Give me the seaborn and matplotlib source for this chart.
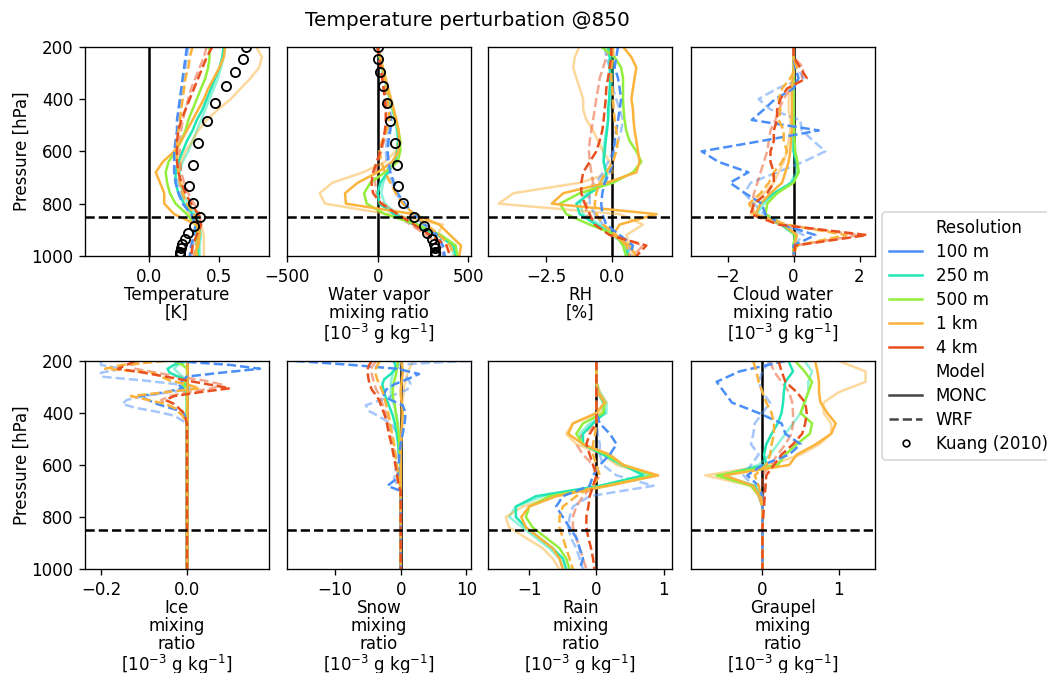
import matplotlib
matplotlib.use("Agg")
import matplotlib.pyplot as plt
import seaborn as sns
from matplotlib.lines import Line2D

# ---------------- data ----------------
P = [200, 240, 280, 320, 360, 400, 440, 480, 520, 560, 600, 640, 680, 720, 760, 800, 840, 880, 920, 960, 1000]
P_ICE = [200, 215, 230, 245, 260, 275, 290, 305, 320, 335, 350, 365, 380, 395, 410, 440, 1000]
P_SNOW = [200, 205, 215, 230, 250, 270, 290, 310, 330, 350, 370, 390, 410, 440, 480, 520, 560, 600, 650, 680, 700, 1000]

RESOLUTIONS = ["100 m", "250 m", "500 m", "1 km", "4 km"]
MODELS = ["MONC", "WRF"]

KUANG_P = [200, 247, 296, 350, 414, 485, 567, 651, 731, 799, 850, 885, 911, 934, 954, 971, 984, 993, 998]
KUANG_T = [0.685, 0.664, 0.613, 0.547, 0.467, 0.415, 0.347, 0.312, 0.282, 0.315, 0.364, 0.317, 0.277, 0.254, 0.235, 0.228, 0.223, 0.223, 0.223]
KUANG_QV = [0, 4, 11, 27, 49, 68, 97, 106, 115, 142, 200, 254, 272, 299, 313, 317, 317, 317, 317]

TEMP = {
    "M250f": [0.54, 0.53, 0.51, 0.49, 0.46, 0.43, 0.40, 0.37, 0.34, 0.31, 0.28, 0.24, 0.22, 0.22, 0.24, 0.28, 0.33, 0.36, 0.37, 0.36, 0.36],
    "M1kf": [0.76, 0.80, 0.78, 0.72, 0.65, 0.58, 0.49, 0.41, 0.35, 0.31, 0.26, 0.23, 0.21, 0.23, 0.24, 0.25, 0.29, 0.37, 0.39, 0.39, 0.39],
    "W100f": [0.28, 0.27, 0.26, 0.25, 0.24, 0.23, 0.22, 0.21, 0.21, 0.20, 0.19, 0.19, 0.19, 0.21, 0.23, 0.27, 0.32, 0.34, 0.33, 0.31, 0.30],
    "W4kf": [0.41, 0.39, 0.36, 0.33, 0.30, 0.28, 0.26, 0.24, 0.23, 0.22, 0.22, 0.22, 0.23, 0.25, 0.28, 0.32, 0.36, 0.37, 0.35, 0.33, 0.32],
    "M250": [0.53, 0.52, 0.50, 0.47, 0.44, 0.41, 0.38, 0.34, 0.31, 0.27, 0.24, 0.21, 0.19, 0.19, 0.21, 0.25, 0.31, 0.35, 0.36, 0.35, 0.35],
    "M500": [0.43, 0.43, 0.42, 0.40, 0.37, 0.34, 0.31, 0.28, 0.26, 0.23, 0.19, 0.14, 0.12, 0.13, 0.15, 0.19, 0.27, 0.33, 0.34, 0.34, 0.34],
    "M1k": [0.54, 0.53, 0.50, 0.46, 0.42, 0.39, 0.35, 0.31, 0.27, 0.23, 0.18, 0.10, 0.05, 0.08, 0.11, 0.11, 0.18, 0.34, 0.36, 0.34, 0.33],
    "W100": [0.27, 0.26, 0.25, 0.24, 0.23, 0.22, 0.21, 0.20, 0.20, 0.19, 0.18, 0.18, 0.18, 0.19, 0.21, 0.24, 0.30, 0.33, 0.32, 0.30, 0.29],
    "W1k": [0.31, 0.29, 0.28, 0.26, 0.25, 0.24, 0.23, 0.22, 0.21, 0.20, 0.20, 0.20, 0.21, 0.22, 0.24, 0.27, 0.32, 0.35, 0.36, 0.35, 0.34],
    "W4k": [0.45, 0.41, 0.38, 0.35, 0.32, 0.29, 0.26, 0.23, 0.21, 0.20, 0.20, 0.20, 0.21, 0.23, 0.26, 0.30, 0.35, 0.37, 0.34, 0.31, 0.30],
}

VAPOR = {
    "M250f": [0, 10, 22, 36, 50, 65, 80, 95, 105, 110, 105, 90, 60, 30, 20, 40, 110, 220, 340, 410, 420],
    "M1kf": [0, 15, 30, 45, 60, 75, 90, 105, 115, 115, 100, 40, -80, -250, -320, -290, 60, 360, 330, 420, 430],
    "W100f": [0, 8, 18, 28, 40, 50, 60, 65, 60, 50, 45, 50, 60, 80, 100, 140, 190, 250, 310, 350, 360],
    "W4kf": [0, 8, 16, 25, 33, 40, 45, 48, 45, 35, 20, 0, -10, -15, -5, 30, 100, 180, 270, 340, 370],
    "M250": [0, 12, 25, 40, 55, 70, 85, 100, 110, 115, 110, 95, 55, 15, 0, 10, 90, 200, 330, 420, 430],
    "M500": [0, 12, 25, 40, 55, 70, 85, 100, 115, 125, 125, 110, 40, -40, -75, -60, 40, 220, 350, 430, 440],
    "M1k": [0, 15, 28, 42, 57, 72, 88, 103, 115, 120, 115, 80, 0, -110, -180, -175, 200, 340, 400, 460, 450],
    "W100": [0, 8, 18, 30, 42, 55, 65, 75, 70, 60, 55, 60, 70, 90, 110, 150, 200, 260, 330, 360, 370],
    "W1k": [0, 10, 20, 32, 45, 55, 62, 65, 50, 25, 10, 20, 40, 70, 100, 140, 200, 270, 340, 400, 420],
    "W4k": [0, 8, 16, 25, 33, 40, 45, 45, 40, 30, 15, -5, -25, -34, -25, 20, 110, 200, 290, 380, 400],
}

RH = {
    "M250f": [-0.03, 0.01, 0.04, 0.01, -0.03, -0.06, -0.11, -0.15, -0.22, -0.28, -0.34, -0.32, -0.24, -0.34, -0.98, -1.23, -1.10, -0.47, 0.16, 0.42, 0.54],
    "M1kf": [-1.25, -1.42, -1.48, -1.36, -1.23, -1.10, -1.10, -0.98, -0.72, -0.53, -0.34, -0.09, 0.04, -1.23, -3.76, -4.33, 0.30, 1.18, 0.55, 0.67, 0.80],
    "W100f": [-0.28, -0.22, -0.09, -0.03, 0.04, 0.16, 0.29, 0.42, 0.35, 0.23, 0.04, -0.15, -0.34, -0.60, -0.85, -0.85, -0.66, -0.34, 0.29, 0.67, 0.61],
    "W4kf": [-0.09, -0.22, -0.34, -0.47, -0.53, -0.60, -0.66, -0.72, -0.79, -0.85, -0.88, -0.85, -0.79, -0.72, -0.85, -0.98, -0.98, -0.72, 0.04, 1.18, 0.80],
    "M250": [-0.15, -0.09, -0.09, -0.06, -0.09, -0.11, -0.15, -0.15, -0.19, -0.24, -0.28, -0.32, -0.22, -0.22, -0.85, -1.36, -1.23, -0.60, 0.04, 0.54, 0.61],
    "M500": [-0.41, 0.10, 0.35, 0.42, 0.42, 0.42, 0.44, 0.48, 0.54, 0.67, 0.93, 1.12, 0.80, 0.04, -1.23, -1.99, -1.74, -0.85, 0.16, 0.42, 0.54],
    "M1k": [0.42, 0.74, 0.93, 0.86, 0.80, 0.74, 0.80, 0.82, 0.86, 0.93, 0.99, 1.05, 0.93, -0.20, -1.86, -2.30, 1.70, 0.29, 0.04, 0.67, 0.93],
    "W100": [0.23, 0.16, 0.10, 0.23, 0.29, 0.35, 0.29, 0.23, 0.16, 0.10, 0.06, 0.04, -0.09, -0.28, -0.37, -0.41, -0.37, -0.22, 0.29, 0.80, 0.67],
    "W1k": [0.04, 0.04, -0.03, -0.03, 0.01, 0.04, 0.06, 0.10, 0.16, 0.23, 0.16, 0.04, -0.22, -0.47, -0.60, -0.66, -0.60, -0.34, 0.16, 0.54, 0.67],
    "W4k": [-0.03, -0.03, -0.09, -0.15, -0.22, -0.24, -0.28, -0.32, -0.37, -0.47, -0.60, -0.85, -1.10, -1.17, -1.17, -1.04, -0.85, -0.66, -0.09, 1.31, 0.93],
}

CLOUD = {
    "M250f": [0, 0, 0, 0, 0, 0, 0, 0, 0, 0, 0, 0.05, 0.08, -0.1, -0.5, -0.9, -1.1, -0.4, 0.05, 0, 0],
    "M1kf": [0, 0, 0, -0.05, -0.1, -0.15, -0.15, -0.1, -0.1, -0.15, -0.2, -0.3, -0.45, -0.6, -0.9, -1.2, -1.3, -0.4, 0.1, 0.02, 0],
    "W100f": [0, 0, 0.1, 0.3, -0.5, -1.06, -0.7, 0.2, 0.25, 0.6, 0.96, 0.3, -0.5, -1.3, -1.5, -1.2, -0.9, -0.3, 0.3, 0, 0],
    "W4kf": [0, 0, 0.3, 0.25, -0.1, -0.3, -0.45, -0.55, -0.7, -0.75, -0.8, -0.9, -1.0, -1.1, -1.2, -1.25, -1.2, -0.3, 2.0, 0.05, 0],
    "M250": [0, 0, 0, 0, 0, 0, 0, 0, 0, 0, 0.0, 0.1, 0.15, -0.05, -0.6, -1.0, -1.15, -0.35, 0.05, 0, 0],
    "M500": [0, 0, 0, 0, 0, 0, 0, 0, 0.02, 0.03, 0.05, 0.12, 0.15, 0.0, -0.5, -0.8, -0.85, -0.3, 0.05, 0, 0],
    "M1k": [0, 0, 0, -0.02, -0.05, -0.05, -0.05, -0.05, -0.05, -0.08, -0.1, -0.15, -0.25, -0.35, -0.7, -1.0, -1.15, -0.3, 0.1, 0.02, 0],
    "W100": [0, 0, 0.05, 0.15, 0.0, -0.56, -0.9, -1.27, 0.76, -0.96, -2.79, -2.28, -1.37, -1.93, -1.47, -0.96, -0.86, -0.35, 0.66, 0.0, 0.0],
    "W1k": [0, 0, 0.1, -0.1, -0.35, -0.45, -0.4, -0.45, -0.3, -0.3, -0.2, -0.35, -0.6, -0.75, -1.0, -1.35, -1.2, -0.2, 1.6, 0.1, 0],
    "W4k": [0, 0, 0.2, 0.4, -0.2, -0.4, -0.5, -0.5, -0.6, -0.6, -0.7, -0.7, -0.6, -0.6, -0.8, -1.2, -1.3, -0.46, 2.23, 0.05, 0],
}

ICE = {
    "M250f": [0, -0.02, -0.03, -0.02, -0.01, 0, -0.01, -0.015, 0, 0, 0, 0, 0, 0, 0, 0, 0],
    "M1kf": [0, 0, 0, 0, 0, 0, 0, 0, 0, 0, 0, 0, 0, 0, 0, 0, 0],
    "W100f": [-0.20, -0.20, -0.15, -0.20, -0.20, -0.10, -0.02, 0.02, -0.04, -0.10, -0.14, -0.15, -0.12, -0.07, -0.03, 0, 0],
    "W4kf": [-0.08, -0.13, -0.12, -0.07, -0.02, 0.04, 0.08, 0.06, 0.0, -0.04, -0.06, -0.05, -0.03, -0.02, -0.01, 0, 0],
    "M250": [0, -0.03, -0.045, -0.04, -0.02, 0.0, -0.005, -0.01, 0, 0, 0, 0, 0, 0, 0, 0, 0],
    "M500": [-0.03, -0.01, 0, 0, 0, 0, -0.01, 0, 0, 0, 0, 0, 0, 0, 0, 0, 0],
    "M1k": [0, 0, 0, 0, 0, 0, 0, 0, 0, 0, 0, 0, 0, 0, 0, 0, 0],
    "W100": [-0.03, 0.10, 0.17, 0.08, 0.0, -0.01, -0.02, -0.01, -0.05, -0.11, -0.09, -0.07, -0.04, -0.01, -0.005, 0, 0],
    "W1k": [-0.05, -0.15, -0.19, -0.08, -0.06, -0.04, 0.0, 0.03, -0.05, -0.13, -0.09, -0.05, -0.03, -0.02, -0.01, 0, 0],
    "W4k": [-0.12, -0.14, -0.16, -0.10, -0.05, 0.0, 0.05, 0.10, 0.03, -0.03, -0.05, -0.03, -0.02, -0.01, -0.005, 0, 0],
}

SNOW = {
    "M250f": [-0.3, -0.3, -0.6, -0.9, -1.2, -1.4, -1.5, -1.5, -1.5, -1.3, -1.0, -0.8, -0.6, -0.4, -0.3, -0.2, -0.1, 0, 0, 0, 0, 0],
    "M1kf": [1.8, 1.8, 1.6, 1.3, 1.0, 0.8, 0.6, 0.5, 0.4, 0.3, 0.2, 0.1, 0.1, 0.3, 0.2, 0.1, 0, 0, 0, 0, 0, 0],
    "W100f": [10.5, 6, -1, 0, 0.5, 1.2, 1.5, 1.0, -1.0, -3.0, -5.3, -5.0, -3.5, -1.5, -0.5, -0.3, -0.4, -0.6, -1.0, -0.5, 0, 0],
    "W4kf": [-3.8, -3.8, -4.2, -4.5, -4.4, -4.2, -4.0, -3.7, -3.3, -3.0, -2.7, -2.4, -2.1, -1.8, -1.5, -1.2, -0.9, -0.7, -0.4, -0.2, 0, 0],
    "M250": [-1.0, -1.0, -0.8, -0.8, -1.5, -2.5, -2.8, -2.6, -2.4, -2.1, -1.8, -1.5, -1.2, -0.9, -0.6, -0.4, -0.2, -0.1, 0, 0, 0, 0],
    "M500": [-0.4, -0.4, -0.5, -0.6, -0.7, -0.9, -1.1, -1.2, -1.2, -1.1, -0.9, -0.8, -0.7, -0.5, -0.3, -0.2, -0.1, 0, 0, 0, 0, 0],
    "M1k": [0.1, 0.1, 0.2, 0.3, 0.3, 0.2, 0.1, 0.0, 0.0, 0.1, 0.2, 0.3, 0.3, 0.2, 0.1, 0.0, 0, 0, 0, 0, 0, 0],
    "W100": [-16, -13, -7.5, -0.5, 2.8, 1.0, -1.0, -2.2, -2.6, -1.5, 0.3, 0.6, 0.7, 0.6, 0.3, 0, -0.2, -0.3, -0.5, -2.0, 0, 0],
    "W1k": [-3.3, -3.3, -3.5, -3.8, -3.8, -3.6, -3.2, -2.9, -2.6, -2.4, -2.2, -2.0, -1.8, -1.6, -1.3, -1.0, -0.8, -0.6, -0.3, -0.1, 0, 0],
    "W4k": [-4.5, -4.5, -4.8, -5.0, -5.0, -4.9, -4.7, -4.4, -3.8, -3.3, -3.0, -2.7, -2.4, -2.1, -1.8, -1.4, -1.1, -0.8, -0.5, -0.3, 0, 0],
}

RAIN = {
    "M250f": [0, 0, 0, 0.05, 0.15, 0.15, -0.1, -0.25, -0.2, 0.1, 0.35, 0.8, 0.1, -0.8, -1.2, -1.3, -1.1, -0.9, -0.7, -0.55, -0.5],
    "M1kf": [0, 0, 0, 0.05, 0.15, 0.05, -0.35, -0.45, -0.3, 0.1, 0.3, 0.9, 0.2, -0.6, -1.1, -1.35, -1.3, -1.05, -0.8, -0.65, -0.55],
    "W100f": [0, 0, 0, 0, 0, 0, 0, 0.02, 0.05, 0.05, 0.1, 0.3, 0.85, -0.1, -0.35, -0.4, -0.42, -0.38, -0.3, -0.25, -0.2],
    "W4kf": [0, 0, 0, 0, 0, 0, 0, -0.2, -0.3, -0.2, -0.05, 0.05, -0.05, -0.2, -0.3, -0.35, -0.35, -0.3, -0.25, -0.2, -0.15],
    "M250": [0, 0, 0, 0.02, 0.1, 0.12, -0.05, -0.2, -0.2, 0.1, 0.4, 0.7, 0.05, -0.9, -1.2, -1.2, -1.05, -0.85, -0.65, -0.5, -0.45],
    "M500": [0, 0, 0, 0.02, 0.12, 0.1, -0.2, -0.3, -0.2, 0.15, 0.4, 0.85, 0.15, -0.7, -1.0, -1.05, -0.95, -0.75, -0.55, -0.45, -0.4],
    "M1k": [0, 0, 0, 0.02, 0.12, 0.0, -0.35, -0.42, -0.2, 0.2, 0.4, 0.92, 0.15, -0.6, -1.0, -1.12, -1.05, -0.85, -0.65, -0.55, -0.5],
    "W100": [0, 0, 0, 0, 0, 0, 0.05, 0.2, 0.3, 0.2, 0.05, -0.05, -0.1, -0.5, -0.6, -0.5, -0.4, -0.3, -0.25, -0.2, -0.25],
    "W1k": [0, 0, 0, 0, 0, 0, 0, -0.02, -0.05, -0.05, 0.0, 0.05, -0.05, -0.3, -0.5, -0.55, -0.55, -0.5, -0.45, -0.4, -0.35],
    "W4k": [0, 0, 0, 0, 0, 0, 0, -0.1, -0.15, -0.1, -0.05, 0.0, -0.05, -0.1, -0.12, -0.15, -0.15, -0.12, -0.08, -0.05, -0.03],
}

GRAUPEL = {
    "M250f": [0.55, 0.65, 0.6, 0.6, 0.55, 0.5, 0.4, 0.3, 0.2, 0.1, -0.05, -0.5, -0.12, -0.03, 0, 0, 0, 0, 0, 0, 0],
    "M1kf": [1.0, 1.35, 1.35, 1.0, 0.8, 0.8, 0.9, 0.9, 0.75, 0.5, 0.1, -0.75, -0.15, -0.05, 0, 0, 0, 0, 0, 0, 0],
    "W100f": [0.1, 0.0, -0.05, 0.0, 0.1, 0.0, -0.1, -0.12, -0.15, -0.05, -0.15, -0.25, -0.12, -0.05, 0, 0, 0, 0, 0, 0, 0],
    "W4kf": [0.1, 0.15, 0.25, 0.35, 0.39, 0.4, 0.4, 0.38, 0.3, 0.2, 0.1, 0.0, 0.0, 0.01, 0, 0, 0, 0, 0, 0, 0],
    "M250": [0.34, 0.4, 0.3, 0.28, 0.27, 0.25, 0.2, 0.12, 0.05, 0.02, 0.05, -0.55, -0.1, -0.03, 0, 0, 0, 0, 0, 0, 0],
    "M500": [0.43, 0.55, 0.65, 0.6, 0.55, 0.5, 0.65, 0.62, 0.45, 0.3, 0.2, -0.6, -0.15, -0.04, 0, 0, 0, 0, 0, 0, 0],
    "M1k": [0.69, 0.72, 0.74, 0.74, 0.76, 0.85, 0.96, 0.9, 0.7, 0.45, 0.35, -0.5, -0.12, -0.04, 0, 0, 0, 0, 0, 0, 0],
    "W100": [0.3, -0.3, -0.6, -0.5, -0.4, -0.05, 0.25, 0.3, 0.5, 0.35, 0.0, -0.2, -0.05, 0, 0, 0, 0, 0, 0, 0, 0],
    "W1k": [-0.12, -0.08, -0.05, 0.0, 0.05, 0.12, 0.15, 0.15, 0.12, 0.1, 0.05, -0.1, -0.05, -0.02, 0, 0, 0, 0, 0, 0, 0],
    "W4k": [0.21, 0.25, 0.3, 0.45, 0.56, 0.58, 0.56, 0.52, 0.4, 0.25, 0.15, 0.05, 0.04, 0.03, 0.02, 0.01, 0, 0, 0, 0, 0],
}

UNIT = "[$10^{-3}$ g kg$^{-1}$]"
XLABELS = ["Temperature\n[K]", "Water vapor\nmixing ratio\n" + UNIT, "RH\n[%]",
           "Cloud water\nmixing ratio\n" + UNIT, "Ice\nmixing\nratio\n" + UNIT,
           "Snow\nmixing\nratio\n" + UNIT, "Rain\nmixing\nratio\n" + UNIT,
           "Graupel\nmixing\nratio\n" + UNIT]

# ---------------- styling ----------------
RES_COLORS = {"100 m": "#4a8ef8", "250 m": "#1fe6b4", "500 m": "#93ef3c",
              "1 km": "#fbb33b", "4 km": "#e8501f"}
SERIES_STYLE = {
    "M250f": ("250 m", "-", 0.5), "M1kf": ("1 km", "-", 0.5),
    "W100f": ("100 m", "--", 0.5), "W4kf": ("4 km", "--", 0.5),
    "M250": ("250 m", "-", 1.0), "M500": ("500 m", "-", 1.0), "M1k": ("1 km", "-", 1.0),
    "W100": ("100 m", "--", 1.0), "W1k": ("1 km", "--", 1.0), "W4k": ("4 km", "--", 1.0),
}

W_IN, H_IN, DPI = 1047, 673, 120
fig = plt.figure(figsize=(W_IN / DPI, H_IN / DPI), dpi=DPI)

COL_LEFT = [85, 287, 488.3, 690.7]
AX_W = 184
ROW_TOP = [46.7, 361]
ROW_H = [209.3, 208]

panels = [
    (TEMP, P, (-0.45, 0.85), [0.0, 0.5], ["0.0", "0.5"]),
    (VAPOR, P, (-485, 515), [-500, 0, 500], ["\u2212500", "0", "500"]),
    (RH, P, (-4.72, 2.3), [-2.5, 0.0], ["\u22122.5", "0.0"]),
    (CLOUD, P, (-3.12, 2.46), [-2, 0, 2], ["\u22122", "0", "2"]),
    (ICE, P_ICE, (-0.237, 0.191), [-0.2, 0.0], ["\u22120.2", "0.0"]),
    (SNOW, P_SNOW, (-17.3, 10.7), [-10, 0, 10], ["\u221210", "0", "10"]),
    (RAIN, P, (-1.61, 1.13), [-1, 0, 1], ["\u22121", "0", "1"]),
    (GRAUPEL, P, (-0.94, 1.47), [0, 1], ["0", "1"]),
]

for i, (data, pres, xlim, xt, xtl) in enumerate(panels):
    r, c = divmod(i, 4)
    l = COL_LEFT[c]
    t = ROW_TOP[r]
    h = ROW_H[r]
    ax = fig.add_axes([l / W_IN, 1 - (t + h) / H_IN, AX_W / W_IN, h / H_IN])
    ax.axvline(0, color="black", lw=1.5, zorder=1)
    for key, vals in data.items():
        res, ls, alpha = SERIES_STYLE[key]
        sns.lineplot(x=vals, y=pres, ax=ax, color=RES_COLORS[res], linestyle=ls,
                     alpha=alpha, lw=1.5, sort=False, estimator=None, legend=False)
    if i == 0:
        sns.lineplot(x=KUANG_T, y=KUANG_P, ax=ax, color="black", marker="o", linestyle="",
                     mfc="none", mec="black", ms=5.5, mew=1.1, sort=False, estimator=None, legend=False)
    if i == 1:
        sns.lineplot(x=KUANG_QV, y=KUANG_P, ax=ax, color="black", marker="o", linestyle="",
                     mfc="none", mec="black", ms=5.5, mew=1.1, sort=False, estimator=None, legend=False)
    ax.axhline(850, color="black", ls="--", lw=1.5, zorder=5)
    ax.set_xlim(*xlim)
    ax.set_ylim(1000, 200)
    ax.set_yticks([200, 400, 600, 800, 1000])
    ax.set_xticks(xt)
    ax.set_xticklabels(xtl)
    ax.set_xlabel(XLABELS[i], labelpad=0, linespacing=1.0)
    if c == 0:
        ax.set_ylabel("Pressure [hPa]", labelpad=0)
    else:
        ax.set_ylabel("")
        ax.tick_params(left=False, labelleft=False)

fig.text(467 / W_IN, 1 - 21 / H_IN, "Temperature perturbation @850", ha="center", va="center", fontsize=12)

handles = [Line2D([], [], color="none")]
labels = ["Resolution"]
for res in RESOLUTIONS:
    handles.append(Line2D([], [], color=RES_COLORS[res], lw=1.5))
    labels.append(res)
handles.append(Line2D([], [], color="none"))
labels.append("Model")
handles.append(Line2D([], [], color="#444444", lw=1.5, ls="-"))
labels.append("MONC")
handles.append(Line2D([], [], color="#444444", lw=1.5, ls="--"))
labels.append("WRF")
handles.append(Line2D([], [], color="black", marker="o", ls="", mfc="none", ms=4))
labels.append("Kuang (2010)")
fig.legend(handles, labels, loc="upper left", bbox_to_anchor=(874 / W_IN, 1 - 204 / H_IN),
           frameon=True, fontsize=10, labelspacing=0.36)

fig.savefig("out.png", dpi=DPI)
